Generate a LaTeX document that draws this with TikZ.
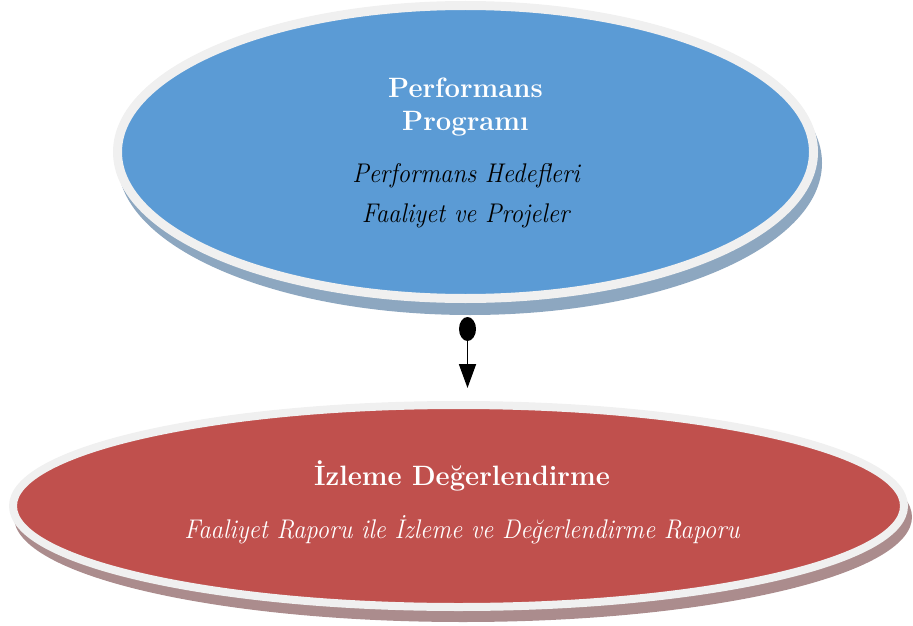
\documentclass[tikz,border=0pt]{standalone}
\usepackage{graphicx}
\usetikzlibrary{shapes.geometric,arrows.meta}
\definecolor{topblue}{HTML}{5B9BD5}
\definecolor{botred}{HTML}{C0504D}
\definecolor{rimgray}{HTML}{F0F0F0}
\definecolor{shadblue}{HTML}{8DA7C0}
\definecolor{shadred}{HTML}{AB8C8D}
\newcommand\boldtxt[1]{\scalebox{0.98}[1]{#1}}
\newcommand\ittxt[1]{\scalebox{0.92}[1]{#1}}
\tikzset{
  oval/.style={ellipse, inner sep=0pt, outer sep=0pt},
  titletext/.style={anchor=base, text=white, inner sep=0pt, font=\fontsize{28}{32}\selectfont\bfseries},
  subtext/.style={anchor=base, inner sep=0pt, font=\fontsize{27}{31}\selectfont\itshape},
}
\begin{document}
\begin{tikzpicture}[x=1pt,y=-1pt]
\useasboundingbox (0,0) rectangle (913,626);
% top ellipse
\node[oval, fill=shadblue, minimum width=704pt, minimum height=304pt] (topshadow) at (470,163) {};
\node[oval, fill=topblue, draw=rimgray, line width=9pt, minimum width=696pt, minimum height=293pt] (top) at (465.5,152) {};
\node[titletext] (t1) at (465.5,97) {\boldtxt{Performans}};
\node[titletext] (t2) at (465.5,130) {\boldtxt{Programı}};
\node[subtext] (t3) at (466,182) {\ittxt{Performans Hedefleri}};
\node[subtext] (t4) at (465.5,222) {\ittxt{Faaliyet ve Projeler}};
% bottom ellipse
\node[oval, fill=shadred, minimum width=898pt, minimum height=210pt] (botshadow) at (463,517) {};
\node[oval, fill=botred, draw=rimgray, line width=8pt, minimum width=891pt, minimum height=202pt] (bot) at (458.5,506) {};
\node[titletext] (b1) at (462,485) {\boldtxt{İzleme Değerlendirme}};
\node[subtext, text=white] (b2) at (462,538) {\ittxt{Faaliyet Raporu ile İzleme ve Değerlendirme Raporu}};
% connector
\node[oval, fill=black, minimum width=17pt, minimum height=24pt] (dot) at (467.5,329) {};
\coordinate (tip) at (467.5,388);
\draw[line width=1.8pt, -{Triangle[length=24pt,width=17pt]}] (dot.south) -- (tip);
\end{tikzpicture}
\end{document}
